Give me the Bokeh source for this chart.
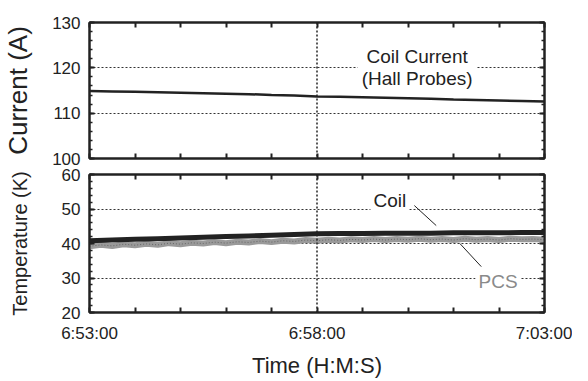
from bokeh.plotting import figure
from bokeh.layouts import column
from bokeh.models import LinearAxis, FixedTicker, Span, Label, Range1d
from bokeh.embed import file_html
from bokeh.resources import INLINE

FONT = "Liberation Sans"
INK = "#222222"

# ---- data (time in minutes after 6:53:00) ----
time_tick_minutes = [0, 1, 2, 3, 4, 5, 6, 7, 8, 9, 10]
time_labels = {0: "6:53:00", 5: "6:58:00", 10: "7:03:00"}

t_half = [0, 0.5, 1, 1.5, 2, 2.5, 3, 3.5, 4, 4.5, 5, 5.5, 6, 6.5, 7, 7.5, 8, 8.5, 9, 9.5, 10]
current_A = [114.9, 114.8, 114.7, 114.6, 114.5, 114.4, 114.3, 114.2, 114.0, 113.9, 113.7,
             113.6, 113.5, 113.4, 113.3, 113.2, 113.0, 112.9, 112.8, 112.7, 112.6]
coil_K = [40.8, 41.0, 41.2, 41.4, 41.6, 41.8, 42.0, 42.2, 42.4, 42.6, 42.8,
          42.9, 42.9, 43.0, 43.0, 43.0, 43.1, 43.1, 43.1, 43.2, 43.2]

t_quarter = [0, 0.25, 0.5, 0.75, 1, 1.25, 1.5, 1.75, 2, 2.25, 2.5, 2.75, 3, 3.25, 3.5, 3.75,
             4, 4.25, 4.5, 4.75, 5, 5.25, 5.5, 5.75, 6, 6.25, 6.5, 6.75, 7, 7.25, 7.5, 7.75,
             8, 8.25, 8.5, 8.75, 9, 9.25, 9.5, 9.75, 10]
pcs_K = [39.2, 39.6, 39.3, 39.8, 39.5, 39.9, 39.6, 40.1, 39.8, 40.2, 40.0, 40.4, 40.1, 40.5,
         40.3, 40.7, 40.4, 40.8, 40.6, 41.0, 40.8, 41.1, 40.9, 41.2, 41.0, 41.3, 41.0, 41.3,
         41.1, 41.4, 41.1, 41.3, 41.0, 41.4, 41.1, 41.3, 41.0, 41.4, 41.2, 41.3, 41.1]

current_ticks = [100, 110, 120, 130]
current_minor = [100 + 2 * i for i in range(16)]
temp_ticks = [20, 30, 40, 50, 60]
temp_minor = [20 + 2 * i for i in range(21)]


def hide_labels(ax, ticks):
    ax.major_label_overrides = {k: "" for k in ticks}
    ax.major_label_text_font_size = "1px"
    ax.major_label_standoff = 0


def frame_style(p, yticks, yminor, show_xlabels):
    xt = FixedTicker(ticks=time_tick_minutes, minor_ticks=[])
    yt = FixedTicker(ticks=yticks, minor_ticks=yminor)
    p.add_layout(LinearAxis(), "above")
    p.add_layout(LinearAxis(), "right")
    for ax in p.xaxis:
        ax.ticker = xt
        ax.major_label_overrides = {k: time_labels.get(k, "") for k in time_tick_minutes}
        ax.minor_tick_line_color = None
    for ax in p.yaxis:
        ax.ticker = yt
        ax.minor_tick_in = 3
        ax.minor_tick_out = 0
        ax.minor_tick_line_width = 1.5
        ax.minor_tick_line_color = INK
    for ax in p.axis:
        ax.axis_line_width = 2
        ax.axis_line_color = INK
        ax.major_tick_in = 5
        ax.major_tick_out = 0
        ax.major_tick_line_width = 2
        ax.major_tick_line_color = INK
        ax.major_label_text_font = FONT
        ax.major_label_text_font_size = "17px"
        ax.major_label_text_color = INK
        ax.axis_label_text_font = FONT
        ax.axis_label_text_font_style = "normal"
        ax.axis_label_text_color = INK
        ax.major_label_standoff = 9
    hide_labels(p.above[0], time_tick_minutes)
    hide_labels(p.right[0], yticks)
    if not show_xlabels:
        hide_labels(p.below[0], time_tick_minutes)
    p.xgrid.visible = False
    p.ygrid.ticker = yt
    p.ygrid.grid_line_color = "#333333"
    p.ygrid.grid_line_dash = "2 2"
    p.ygrid.grid_line_width = 1
    p.outline_line_color = INK
    p.outline_line_width = 2
    p.add_layout(Span(location=5, dimension="height", line_color="#222222",
                      line_dash="2 2", line_width=1.5))
    p.background_fill_color = "white"
    p.border_fill_color = "white"


# ---- top panel: coil current ----
p1 = figure(width=572, height=166, output_backend="svg", toolbar_location=None,
            x_range=Range1d(0, 10), y_range=Range1d(100, 130),
            min_border_left=83, min_border_right=28, min_border_top=22, min_border_bottom=8)
frame_style(p1, current_ticks, current_minor, show_xlabels=False)
p1.yaxis[0].axis_label = "Current (A)"
p1.yaxis[0].axis_label_text_font_size = "26px"
p1.yaxis[0].axis_label_standoff = 16
p1.line(t_half, current_A, line_color=INK, line_width=2.5)

p1.add_layout(Label(x=7.2, y=122.6, text="Coil Current", text_font=FONT, text_font_size="19px",
                    text_color=INK, text_align="center", text_baseline="middle"))
p1.add_layout(Label(x=7.2, y=117.7, text="(Hall Probes)", text_font=FONT, text_font_size="19px",
                    text_color=INK, text_align="center", text_baseline="middle",
                    background_fill_color="white", padding=4))

# ---- bottom panel: temperatures ----
p2 = figure(width=572, height=215, output_backend="svg", toolbar_location=None,
            x_range=p1.x_range, y_range=Range1d(20, 60),
            min_border_left=83, min_border_right=28, min_border_top=8, min_border_bottom=69)
frame_style(p2, temp_ticks, temp_minor, show_xlabels=True)
p2.yaxis[0].axis_label = "Temperature (K)"
p2.yaxis[0].axis_label_text_font_size = "20px"
p2.yaxis[0].axis_label_standoff = 28
p2.below[0].axis_label = "Time (H:M:S)"
p2.below[0].axis_label_text_font_size = "22px"
p2.below[0].axis_label_standoff = 7
p2.below[0].major_label_standoff = 11

p2.line(t_quarter, pcs_K, line_color="#9a9a9a", line_width=6)
p2.line(t_quarter, pcs_K, line_color="#666666", line_width=1, line_dash="1 2")
p2.line(t_half, coil_K, line_color=INK, line_width=5)

p2.add_layout(Label(x=6.6, y=52.4, text="Coil", text_font=FONT, text_font_size="19px",
                    text_color=INK, text_align="center", text_baseline="middle",
                    background_fill_color="white", padding=3))
p2.segment(x0=[7.14], y0=[51.0], x1=[7.62], y1=[45.2], line_color=INK, line_width=1)
p2.add_layout(Label(x=8.98, y=29.0, text="PCS", text_font=FONT, text_font_size="19px",
                    text_color="#8a8a8a", text_align="center", text_baseline="middle",
                    background_fill_color="white", padding=3))
p2.segment(x0=[8.14], y0=[40.0], x1=[8.61], y1=[33.3], line_color=INK, line_width=1)

layout = column(p1, p2, spacing=0)
open("out.html", "w").write(file_html(layout, INLINE))
